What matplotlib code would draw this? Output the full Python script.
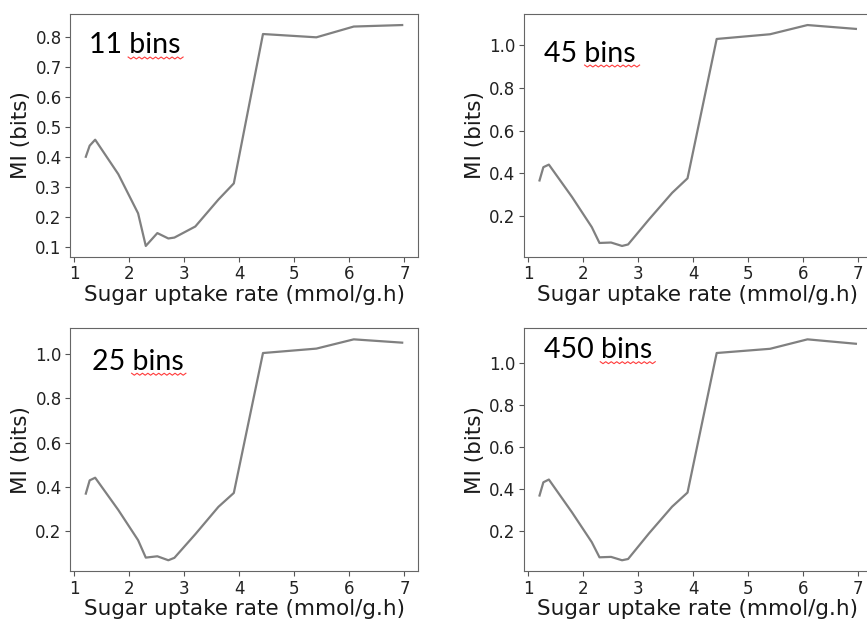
import numpy as np
import matplotlib
matplotlib.use('Agg')
import matplotlib.pyplot as plt
from matplotlib.ticker import MultipleLocator

# sugar uptake rate (mmol/g.h) and mutual information (bits) for each binning
rate = [1.21, 1.28, 1.38, 1.80, 2.16, 2.30, 2.51, 2.71, 2.82, 3.20, 3.62, 3.90, 4.43, 5.40, 6.08, 6.96]
mi_11 = [0.401, 0.438, 0.458, 0.343, 0.212, 0.103, 0.146, 0.128, 0.131, 0.168, 0.258, 0.312, 0.811, 0.800, 0.836, 0.841]
mi_45 = [0.367, 0.429, 0.441, 0.290, 0.149, 0.075, 0.077, 0.061, 0.068, 0.185, 0.309, 0.377, 1.028, 1.050, 1.093, 1.075]
mi_25 = [0.369, 0.429, 0.441, 0.295, 0.158, 0.079, 0.085, 0.067, 0.078, 0.185, 0.309, 0.372, 1.006, 1.026, 1.068, 1.053]
mi_450 = [0.370, 0.433, 0.446, 0.290, 0.148, 0.076, 0.078, 0.062, 0.068, 0.190, 0.317, 0.384, 1.048, 1.068, 1.113, 1.092]

labels = ['11 bins', '45 bins', '25 bins', '450 bins']
series = [mi_11, mi_45, mi_25, mi_450]
ystep = [0.1, 0.2, 0.2, 0.2]

W, H = 867, 619
fig = plt.figure(figsize=(W / 100, H / 100), dpi=100)

# axes boxes in pixels: left, top (right column runs past the edge)
boxes = [(70, 14), (523.7, 14), (70, 328.3), (523.7, 328.3)]
ax_w, ax_h = 348, 243
# label anchor (axes fraction) and squiggle span under "bins"
text_pos = [(0.055, 0.84), (0.057, 0.804), (0.062, 0.828), (0.059, 0.877)]
squig = [(0.167, 0.325, 0.819), (0.175, 0.333, 0.786),
         (0.177, 0.333, 0.811), (0.220, 0.378, 0.8585)]

for (lx, ty), mi, lab, step, (tx, tyf), (s0, s1, sy) in zip(boxes, series, labels, ystep, text_pos, squig):
    ax = fig.add_axes([lx / W, 1 - (ty + ax_h) / H, ax_w / W, ax_h / H])
    ax.plot(rate, mi, color='#808080', linewidth=1.6)
    ax.set_xticks([1, 2, 3, 4, 5, 6, 7])
    ax.yaxis.set_major_locator(MultipleLocator(step))
    ax.set_xlabel('Sugar uptake rate (mmol/g.h)', fontsize=15.5, color='#1a1a1a', labelpad=1)
    ax.set_ylabel('MI (bits)', fontsize=15.5, color='#1a1a1a', labelpad=3)
    ax.tick_params(labelsize=12, colors='#555555', labelcolor='#222222', pad=2.5)
    for sp in ax.spines.values():
        sp.set_color('#666666')
    ax.text(tx, tyf, lab, transform=ax.transAxes, fontsize=20.5,
            family='Lato', color='black', va='baseline', ha='left')
    # red spell-check squiggle under the word
    n = int((s1 - s0) * ax_w / 2.7) + 1
    xs = np.linspace(s0, s1, n)
    ys = sy + np.where(np.arange(n) % 2 == 0, 0.004, -0.004)
    ax.plot(xs, ys, transform=ax.transAxes, color='#ff3b3b', linewidth=0.8, clip_on=False)

fig.savefig('out.png', dpi=100)
